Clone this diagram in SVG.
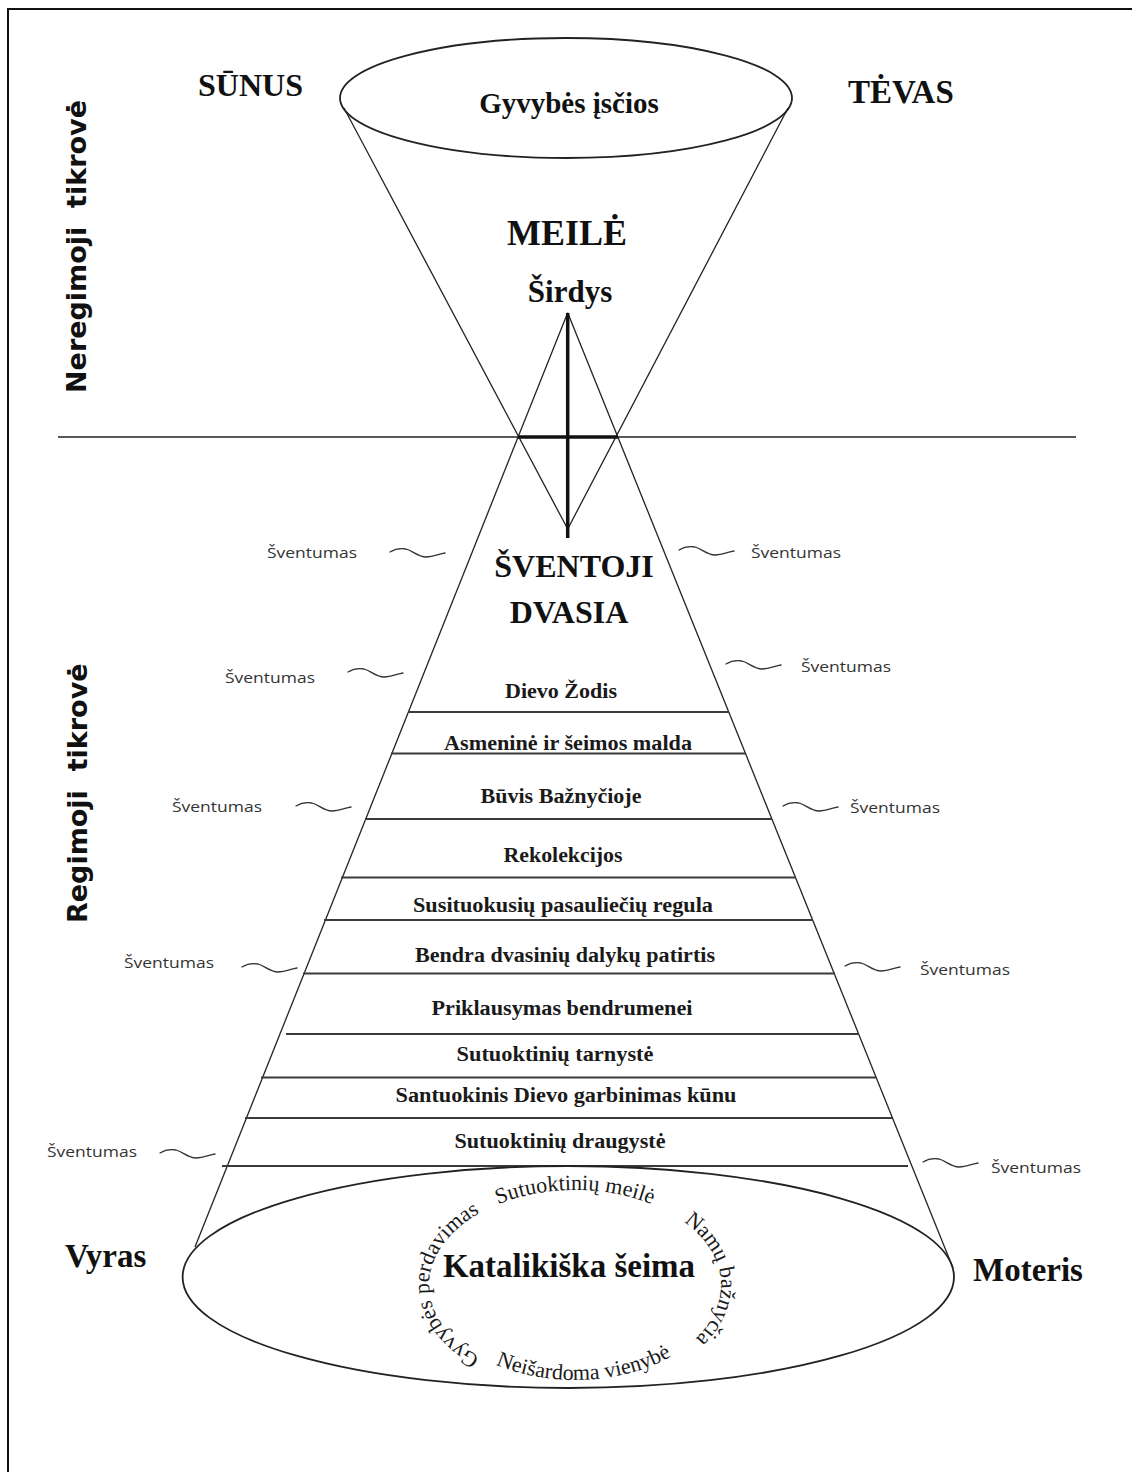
<svg xmlns="http://www.w3.org/2000/svg" xmlns:xlink="http://www.w3.org/1999/xlink" width="1132" height="1472" viewBox="0 0 1132 1472">
<defs>
<style>
.ln{fill:none;stroke:#222;stroke-width:1.3}
.el{fill:none;stroke:#222;stroke-width:1.8}
.band{stroke:#3a3a3a;stroke-width:2}
.cross{stroke:#111;stroke-width:3.5;fill:none}
.tl{fill:none;stroke:#333;stroke-width:1.3;stroke-linecap:round}
.tb{font-family:"Liberation Serif","Times New Roman",serif;font-weight:bold;fill:#111}
.bl{font-family:"Liberation Serif","Times New Roman",serif;font-weight:bold;font-size:20px;fill:#1a1a1a;text-anchor:middle}
.cv{font-family:"Liberation Serif","Times New Roman",serif;font-size:22px;fill:#1a1a1a}
.sv{font-family:"Open Sans","Noto Sans",sans-serif;font-size:15px;fill:#333}
.vt{font-family:"DejaVu Sans",Verdana,sans-serif;font-weight:bold;font-size:27px;fill:#111}
.mid{text-anchor:middle}
</style>
<path id="tilde" d="M0,0 C5,-3 10,-4 16,-3 C23,-1 28,5 36,5 C43,5 49,2 55,1"/>
<path id="arcCW" d="M575,1380 A146,95 0 1,1 575,1190 A146,95 0 1,1 575,1380"/>
<path id="arcBottom" d="M429,1285 A146,95 0 0,0 721,1285"/>
</defs>
<rect width="1132" height="1472" fill="#fff"/>
<path d="M8,1472 V9 H1132" fill="none" stroke="#111" stroke-width="2"/>

<g id="realm-labels">
<text class="vt" transform="translate(86,393) rotate(-90)" xml:space="preserve">Neregimoji  tikrovė</text>
<text class="vt" transform="translate(87,923) rotate(-90)" xml:space="preserve">Regimoji  tikrovė</text>
</g>

<g id="connectors">
<line class="ln" x1="58" y1="437" x2="1076" y2="437"/>
<line class="ln" x1="344" y1="108" x2="567.7" y2="529"/>
<line class="ln" x1="788" y1="108" x2="567.7" y2="529"/>
<line class="ln" x1="567.7" y1="312.7" x2="195" y2="1247"/>
<line class="ln" x1="567.7" y1="312.7" x2="953" y2="1268"/>
</g>

<g id="cross">
<line class="cross" x1="567.7" y1="313" x2="567.7" y2="538"/>
<line class="cross" x1="518" y1="437" x2="618" y2="437"/>
</g>

<g id="top-womb">
<ellipse class="el" cx="566" cy="98" rx="226" ry="60"/>
<text class="tb mid" x="569" y="113" font-size="29">Gyvybės įsčios</text>
</g>
<g id="sunus"><text class="tb" x="198" y="96" font-size="32">SŪNUS</text></g>
<g id="tevas"><text class="tb" x="848" y="103" font-size="33">TĖVAS</text></g>
<g id="meile"><text class="tb mid" x="567" y="245" font-size="36">MEILĖ</text></g>
<g id="sirdys"><text class="tb mid" x="570" y="302" font-size="31">Širdys</text></g>
<g id="sventoji-dvasia">
<text class="tb mid" x="574" y="577" font-size="32">ŠVENTOJI</text>
<text class="tb mid" x="569" y="623" font-size="32">DVASIA</text>
</g>

<g id="bands">
<line class="band" x1="408" y1="712" x2="729" y2="712"/>
<line class="band" x1="391" y1="753.5" x2="746" y2="753.5"/>
<line class="band" x1="365" y1="819" x2="772" y2="819"/>
<line class="band" x1="341" y1="877.5" x2="796" y2="877.5"/>
<line class="band" x1="324" y1="920" x2="813" y2="920"/>
<line class="band" x1="303" y1="973.5" x2="835" y2="973.5"/>
<line class="band" x1="286" y1="1034" x2="859" y2="1034"/>
<line class="band" x1="261" y1="1077.5" x2="876" y2="1077.5"/>
<line class="band" x1="245" y1="1118" x2="892" y2="1118"/>
<line class="band" x1="222" y1="1166" x2="908" y2="1166"/>
</g>
<g id="band-labels">
<text class="bl" x="561" y="698" textLength="112" lengthAdjust="spacingAndGlyphs">Dievo Žodis</text>
<text class="bl" x="568" y="750" textLength="248" lengthAdjust="spacingAndGlyphs">Asmeninė ir šeimos malda</text>
<text class="bl" x="561" y="803" textLength="161" lengthAdjust="spacingAndGlyphs">Būvis Bažnyčioje</text>
<text class="bl" x="563" y="862" textLength="119" lengthAdjust="spacingAndGlyphs">Rekolekcijos</text>
<text class="bl" x="563" y="912" textLength="300" lengthAdjust="spacingAndGlyphs">Susituokusių pasauliečių regula</text>
<text class="bl" x="565" y="962" textLength="300" lengthAdjust="spacingAndGlyphs">Bendra dvasinių dalykų patirtis</text>
<text class="bl" x="562" y="1015" textLength="261" lengthAdjust="spacingAndGlyphs">Priklausymas bendrumenei</text>
<text class="bl" x="555" y="1061" textLength="197" lengthAdjust="spacingAndGlyphs">Sutuoktinių tarnystė</text>
<text class="bl" x="566" y="1102" textLength="341" lengthAdjust="spacingAndGlyphs">Santuokinis Dievo garbinimas kūnu</text>
<text class="bl" x="560" y="1148" textLength="211" lengthAdjust="spacingAndGlyphs">Sutuoktinių draugystė</text>
</g>

<g id="sventumas">
<use href="#tilde" xlink:href="#tilde" class="tl" x="390" y="552"/>
<text class="sv" x="267" y="558" textLength="90" lengthAdjust="spacingAndGlyphs">Šventumas</text>
<use href="#tilde" xlink:href="#tilde" class="tl" x="679" y="550"/>
<text class="sv" x="751" y="558" textLength="90" lengthAdjust="spacingAndGlyphs">Šventumas</text>
<use href="#tilde" xlink:href="#tilde" class="tl" x="348" y="672"/>
<text class="sv" x="225" y="683" textLength="90" lengthAdjust="spacingAndGlyphs">Šventumas</text>
<use href="#tilde" xlink:href="#tilde" class="tl" x="726" y="664"/>
<text class="sv" x="801" y="672" textLength="90" lengthAdjust="spacingAndGlyphs">Šventumas</text>
<use href="#tilde" xlink:href="#tilde" class="tl" x="296" y="806"/>
<text class="sv" x="172" y="812" textLength="90" lengthAdjust="spacingAndGlyphs">Šventumas</text>
<use href="#tilde" xlink:href="#tilde" class="tl" x="783" y="806"/>
<text class="sv" x="850" y="813" textLength="90" lengthAdjust="spacingAndGlyphs">Šventumas</text>
<use href="#tilde" xlink:href="#tilde" class="tl" x="242" y="967"/>
<text class="sv" x="124" y="968" textLength="90" lengthAdjust="spacingAndGlyphs">Šventumas</text>
<use href="#tilde" xlink:href="#tilde" class="tl" x="845" y="966"/>
<text class="sv" x="920" y="975" textLength="90" lengthAdjust="spacingAndGlyphs">Šventumas</text>
<use href="#tilde" xlink:href="#tilde" class="tl" x="160" y="1153"/>
<text class="sv" x="47" y="1157" textLength="90" lengthAdjust="spacingAndGlyphs">Šventumas</text>
<use href="#tilde" xlink:href="#tilde" class="tl" x="923" y="1162"/>
<text class="sv" x="991" y="1173" textLength="90" lengthAdjust="spacingAndGlyphs">Šventumas</text>
</g>

<g id="family">
<ellipse class="el" cx="568.3" cy="1277" rx="385.7" ry="111"/>
<text class="tb mid" x="569" y="1277" font-size="33">Katalikiška šeima</text>
<text class="cv" font-size="21"><textPath href="#arcCW" xlink:href="#arcCW" startOffset="25%" text-anchor="middle">Gyvybės perdavimas</textPath></text>
<text class="cv"><textPath href="#arcCW" xlink:href="#arcCW" startOffset="50%" text-anchor="middle">Sutuoktinių meilė</textPath></text>
<text class="cv"><textPath href="#arcCW" xlink:href="#arcCW" startOffset="74%" text-anchor="middle">Namų bažnyčia</textPath></text>
<text class="cv" font-size="23.5"><textPath href="#arcBottom" xlink:href="#arcBottom" startOffset="52.5%" text-anchor="middle">Neišardoma vienybė</textPath></text>
</g>
<g id="vyras"><text class="tb" x="65" y="1267" font-size="33">Vyras</text></g>
<g id="moteris"><text class="tb" x="973" y="1281" font-size="33">Moteris</text></g>
</svg>
